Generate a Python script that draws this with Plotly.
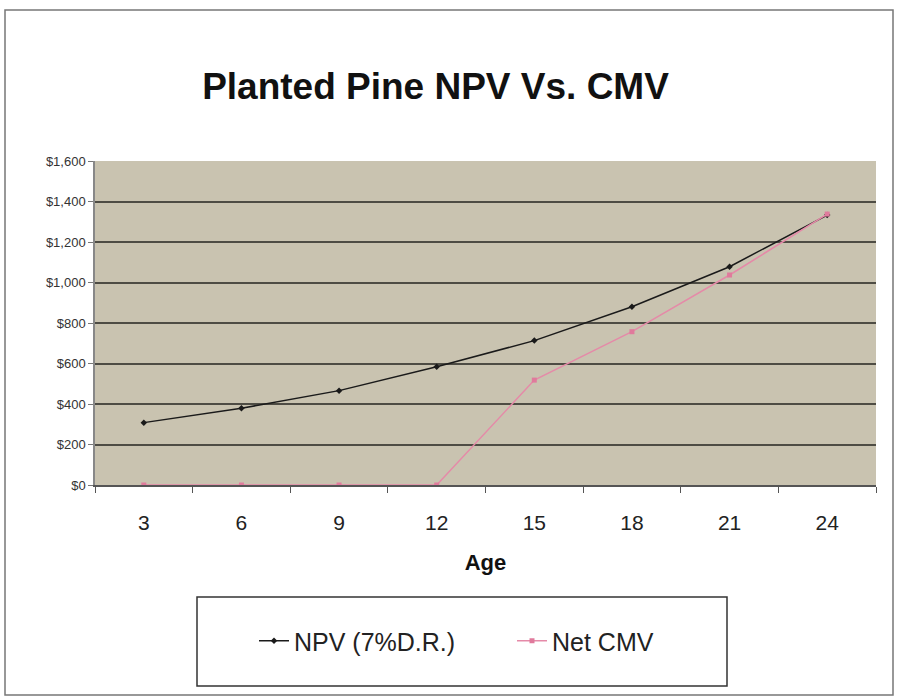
import plotly.graph_objects as go

ages = ["3", "6", "9", "12", "15", "18", "21", "24"]
npv = [308, 379, 466, 584, 713, 880, 1078, 1333]
net_cmv = [0, 0, 0, 0, 518, 757, 1037, 1338]
y_ticks = [0, 200, 400, 600, 800, 1000, 1200, 1400, 1600]
y_tick_labels = ["$0", "$200", "$400", "$600", "$800", "$1,000", "$1,200", "$1,400", "$1,600"]

FONT = "Liberation Sans, Arial, sans-serif"

# plot area in pixels
L, R, T, B = 95, 876, 161, 485
W, H = 898, 699

def px_x(px):
    return (px - L) / (R - L)

def px_y(py):
    return (B - py) / (B - T)

fig = go.Figure()
fig.add_trace(go.Scatter(
    x=ages, y=npv, name="NPV (7%D.R.)", mode="lines+markers",
    line=dict(color="#1a1a1a", width=1.5),
    marker=dict(symbol="diamond", size=5, color="#1a1a1a"),
))
fig.add_trace(go.Scatter(
    x=ages, y=net_cmv, name="Net CMV", mode="lines+markers",
    line=dict(color="#e58aa8", width=1.5),
    marker=dict(symbol="square", size=5, color="#e07a9c"),
))

fig.update_layout(
    width=W, height=H,
    margin=dict(l=L, r=W - R, t=T, b=H - B),
    paper_bgcolor="white",
    plot_bgcolor="#c9c3b0",
    font=dict(family=FONT, color="#222"),
    title=dict(
        text="<b>Planted Pine NPV Vs. CMV</b>",
        font=dict(family=FONT, size=37, color="#111"),
        x=435.5 / W, xanchor="center",
        y=1 - 86 / H, yanchor="middle", yref="container",
    ),
    showlegend=True,
    legend=dict(
        orientation="h",
        x=px_x(254), xanchor="left",
        y=px_y(641), yanchor="middle",
        font=dict(family=FONT, size=25, color="#222"),
        bgcolor="rgba(0,0,0,0)",
        borderwidth=0,
        itemwidth=30,
        entrywidth=213, entrywidthmode="pixels",
    ),
    xaxis=dict(
        type="category",
        range=[-0.5, len(ages) - 0.5],
        tickson="boundaries",
        ticks="outside", ticklen=6, tickcolor="#555",
        showline=True, linecolor="#555", linewidth=1.5,
        showgrid=False,
        tickfont=dict(family=FONT, size=21, color="#222"),
        ticklabelstandoff=18,
        title=dict(text="<b>Age</b>", font=dict(family=FONT, size=22, color="#111"), standoff=22),
    ),
    yaxis=dict(
        range=[0, 1600],
        tickmode="array",
        tickvals=y_ticks,
        ticktext=y_tick_labels,
        ticks="outside", ticklen=5, tickcolor="#777",
        showline=True, linecolor="#888", linewidth=1.5,
        showgrid=True, gridcolor="#4e4c44", gridwidth=1.5,
        zeroline=False,
        tickfont=dict(family=FONT, size=13, color="#333"),
    ),
    shapes=[
        dict(type="rect", xref="paper", yref="paper",
             x0=px_x(5), x1=px_x(893), y0=px_y(695), y1=px_y(10),
             line=dict(color="#777", width=1.5), fillcolor="rgba(0,0,0,0)", layer="below"),
        dict(type="rect", xref="paper", yref="paper",
             x0=px_x(197), x1=px_x(727), y0=px_y(686), y1=px_y(597),
             line=dict(color="#333", width=1.5), fillcolor="rgba(0,0,0,0)", layer="below"),
    ],
)

fig.write_html("out.html", config={"displayModeBar": False},
               post_script="document.body.style.margin='0px';")
